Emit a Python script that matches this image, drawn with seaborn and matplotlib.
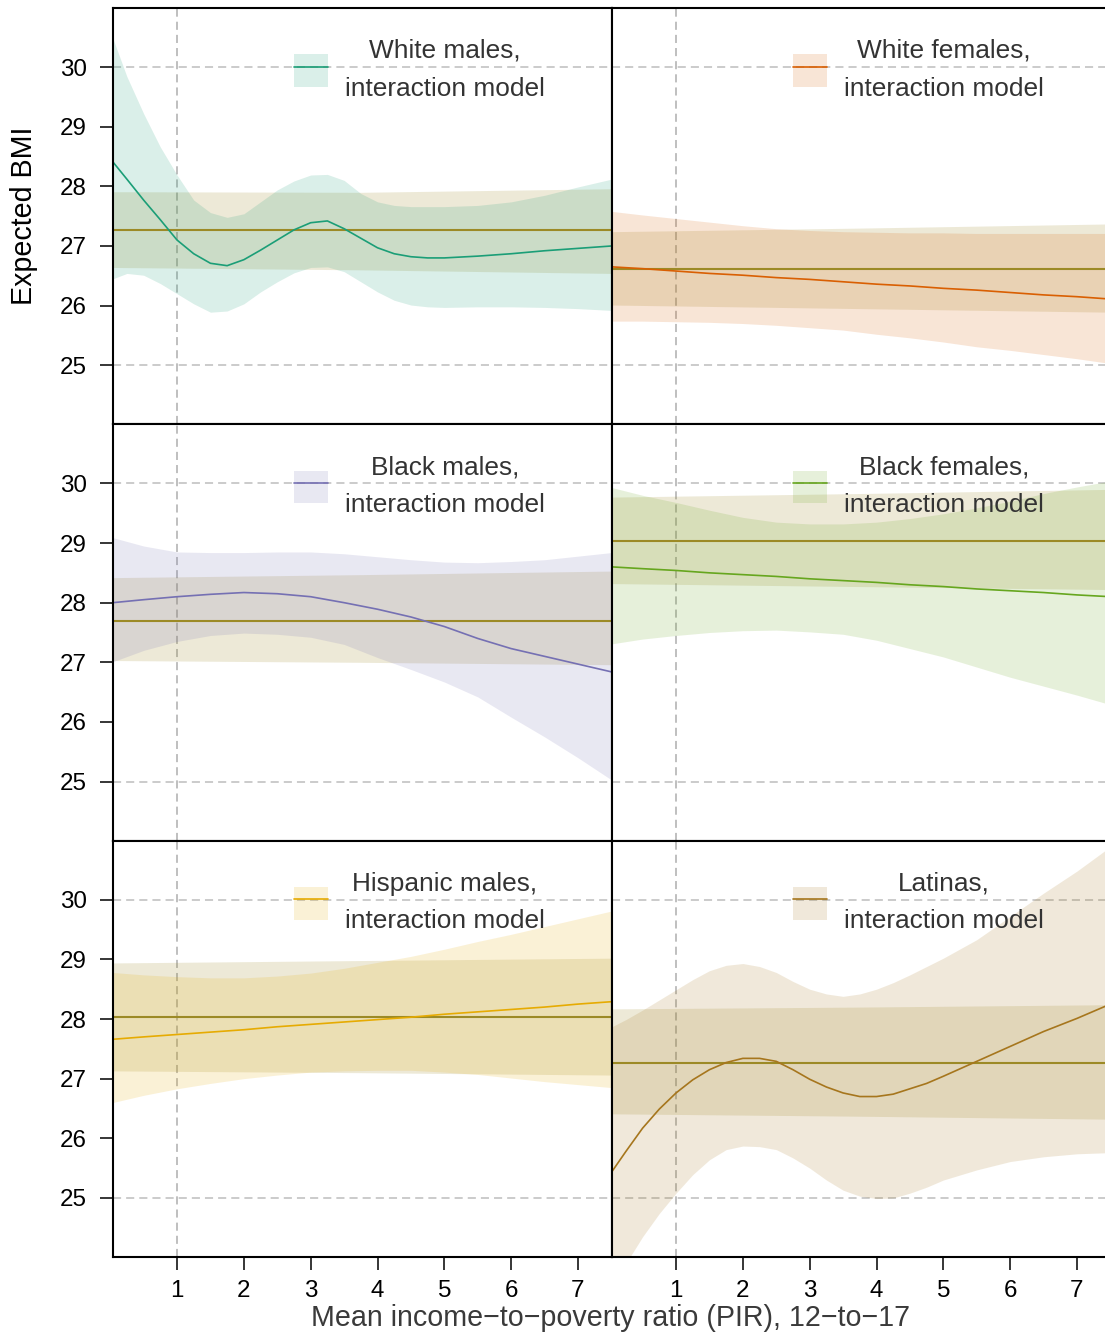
import numpy as np
import pandas as pd
import matplotlib
matplotlib.use("Agg")
import matplotlib.pyplot as plt
import seaborn as sns
from matplotlib.patches import Patch
from matplotlib.lines import Line2D

# ---------------- data ----------------
pir = [0.04, 0.5, 1.0, 1.5, 2.0, 2.5, 3.0, 3.5, 4.0, 4.5, 5.0, 5.5, 6.0, 6.5, 7.0, 7.5]
pir_fine = [0.04, 0.25, 0.5, 0.75, 1.0, 1.25, 1.5, 1.75, 2.0, 2.25, 2.5, 2.75, 3.0,
            3.25, 3.5, 3.75, 4.0, 4.25, 4.5, 4.75, 5.0, 5.5, 6.0, 6.5, 7.0, 7.5]
null_pir = [0.04, 3.75, 7.5]

groups = ["White males", "White females", "Black males",
          "Black females", "Hispanic males", "Latinas"]
colors = ["#1B9E77", "#D95F02", "#7570B3", "#66A61E", "#E6AB02", "#A6761D"]
null_color = "#9C8A26"

# interaction model: fit, upper, lower
wm_fit = [28.41, 28.12, 27.77, 27.44, 27.10, 26.87, 26.71, 26.67, 26.77, 26.93, 27.10, 27.27, 27.39,
          27.42, 27.29, 27.13, 26.97, 26.87, 26.82, 26.80, 26.80, 26.83, 26.87, 26.92, 26.96, 27.00]
wm_hi = [30.48, 29.84, 29.22, 28.66, 28.19, 27.77, 27.56, 27.48, 27.54, 27.74, 27.94, 28.09, 28.19,
         28.20, 28.10, 27.88, 27.74, 27.68, 27.66, 27.66, 27.66, 27.68, 27.74, 27.85, 27.99, 28.12]
wm_lo = [26.45, 26.54, 26.51, 26.37, 26.20, 26.03, 25.89, 25.91, 26.03, 26.23, 26.40, 26.55, 26.64,
         26.65, 26.57, 26.40, 26.23, 26.09, 26.01, 25.98, 25.97, 25.98, 25.98, 25.97, 25.95, 25.92]

wf_fit = [26.65, 26.62, 26.58, 26.54, 26.51, 26.47, 26.44, 26.40, 26.36, 26.33, 26.29, 26.26, 26.22, 26.18, 26.15, 26.11]
wf_hi = [27.58, 27.52, 27.46, 27.40, 27.34, 27.29, 27.26, 27.24, 27.23, 27.22, 27.22, 27.21, 27.21, 27.21, 27.21, 27.21]
wf_lo = [25.74, 25.74, 25.73, 25.72, 25.70, 25.67, 25.63, 25.59, 25.52, 25.46, 25.39, 25.31, 25.25, 25.18, 25.11, 25.03]

bm_fit = [28.00, 28.05, 28.10, 28.14, 28.17, 28.15, 28.10, 28.00, 27.89, 27.76, 27.60, 27.40, 27.23, 27.10, 26.97, 26.84]
bm_hi = [29.09, 28.95, 28.85, 28.84, 28.84, 28.85, 28.85, 28.82, 28.77, 28.72, 28.68, 28.67, 28.69, 28.72, 28.78, 28.84]
bm_lo = [27.01, 27.20, 27.35, 27.45, 27.49, 27.47, 27.42, 27.30, 27.08, 26.88, 26.67, 26.42, 26.08, 25.75, 25.40, 25.03]

bf_fit = [28.60, 28.57, 28.54, 28.50, 28.47, 28.44, 28.40, 28.37, 28.34, 28.30, 28.27, 28.23, 28.20, 28.17, 28.13, 28.10]
bf_hi = [29.93, 29.80, 29.68, 29.55, 29.43, 29.35, 29.32, 29.32, 29.35, 29.41, 29.49, 29.59, 29.70, 29.83, 29.94, 30.04]
bf_lo = [27.31, 27.39, 27.45, 27.50, 27.53, 27.54, 27.51, 27.47, 27.37, 27.23, 27.09, 26.92, 26.75, 26.60, 26.45, 26.29]

hm_fit = [27.66, 27.70, 27.74, 27.78, 27.82, 27.87, 27.91, 27.95, 27.99, 28.03, 28.08, 28.12, 28.16, 28.20, 28.25, 28.29]
hm_hi = [28.78, 28.74, 28.71, 28.69, 28.69, 28.72, 28.77, 28.85, 28.95, 29.05, 29.17, 29.30, 29.42, 29.55, 29.68, 29.81]
hm_lo = [26.60, 26.72, 26.83, 26.92, 27.00, 27.06, 27.11, 27.13, 27.14, 27.14, 27.11, 27.07, 27.01, 26.95, 26.90, 26.85]

la_fit = [25.44, 25.78, 26.17, 26.49, 26.76, 26.98, 27.15, 27.27, 27.34, 27.34, 27.29, 27.15, 26.99,
          26.86, 26.76, 26.70, 26.70, 26.74, 26.83, 26.92, 27.04, 27.29, 27.54, 27.79, 28.01, 28.25]
la_hi = [27.87, 27.99, 28.15, 28.32, 28.49, 28.66, 28.81, 28.90, 28.93, 28.88, 28.78, 28.63, 28.50,
         28.42, 28.38, 28.42, 28.50, 28.61, 28.74, 28.88, 29.02, 29.33, 29.72, 30.11, 30.48, 30.89]
la_lo = [23.50, 23.90, 24.35, 24.74, 25.08, 25.39, 25.64, 25.81, 25.87, 25.86, 25.81, 25.67, 25.50,
         25.30, 25.13, 25.03, 24.99, 25.00, 25.08, 25.18, 25.30, 25.47, 25.61, 25.69, 25.74, 25.76]

# null (no-interaction) model: constant fit and band
null_fit = [27.27, 26.62, 27.70, 29.04, 28.03, 27.27]
wm_null_hi, wm_null_lo = [27.91, 27.90, 27.96], [26.64, 26.60, 26.54]
wf_null_hi, wf_null_lo = [27.24, 27.30, 27.37], [26.01, 25.95, 25.89]
bm_null_hi, bm_null_lo = [28.42, 28.47, 28.53], [27.03, 27.00, 26.96]
bf_null_hi, bf_null_lo = [29.77, 29.83, 29.90], [28.32, 28.27, 28.22]
hm_null_hi, hm_null_lo = [28.94, 28.98, 29.02], [27.13, 27.10, 27.06]
la_null_hi, la_null_lo = [28.17, 28.20, 28.24], [26.41, 26.37, 26.32]

xs = [pir_fine, pir, pir, pir, pir, pir_fine]
fits = [wm_fit, wf_fit, bm_fit, bf_fit, hm_fit, la_fit]
his = [wm_hi, wf_hi, bm_hi, bf_hi, hm_hi, la_hi]
los = [wm_lo, wf_lo, bm_lo, bf_lo, hm_lo, la_lo]
null_his = [wm_null_hi, wf_null_hi, bm_null_hi, bf_null_hi, hm_null_hi, la_null_hi]
null_los = [wm_null_lo, wf_null_lo, bm_null_lo, bf_null_lo, hm_null_lo, la_null_lo]

y_ticks = [25, 26, 27, 28, 29, 30]
x_ticks = [1, 2, 3, 4, 5, 6, 7]
grid_y = [25, 30]
grid_x = [1]

# ---------------- style ----------------
sns.set_theme(style="white")
plt.rcParams["font.family"] = ["Liberation Sans", "DejaVu Sans"]

W, H = 1105, 1335
fig = plt.figure(figsize=(W / 100, H / 100), dpi=100)

ax_w = 499 / W
row_h = 416.33 / H
lefts = [113 / W, 612 / W]
bottoms = [(H - (8 + (r + 1) * 416.33)) / H for r in range(3)]

TICK_FS = 17.4
LEG_FS = 18.9
LAB_FS = 20.6

for i, grp in enumerate(groups):
    r, c = divmod(i, 2)
    ax = fig.add_axes([lefts[c], bottoms[r], ax_w, row_h])
    ax.set_facecolor("white")
    col = colors[i]

    # dashed reference lines
    for gy in grid_y:
        ax.axhline(gy, color="#BDBDBD", lw=1.1, ls=(0, (5.3, 3.3)), zorder=0.5)
    for gx in grid_x:
        ax.axvline(gx, color="#ADADAD", lw=1.1, ls=(0, (5.3, 3.3)), zorder=0.5)

    # bands
    ax.fill_between(null_pir, null_los[i], null_his[i], color=null_color,
                    alpha=0.18, lw=0, zorder=1)
    ax.fill_between(xs[i], los[i], his[i], color=col, alpha=0.16, lw=0, zorder=1.1)

    # lines
    df_null = pd.DataFrame({"PIR": [null_pir[0], null_pir[-1]],
                            "BMI": [null_fit[i], null_fit[i]]})
    sns.lineplot(data=df_null, x="PIR", y="BMI", color=null_color, lw=1.5,
                 estimator=None, sort=False, ax=ax, zorder=2)
    df_fit = pd.DataFrame({"PIR": xs[i], "BMI": fits[i]})
    sns.lineplot(data=df_fit, x="PIR", y="BMI", color=col, lw=1.2,
                 estimator=None, sort=False, ax=ax, zorder=2.1)

    ax.set_xlim(0.042, 7.509)
    ax.set_ylim(24.01, 30.99)
    ax.set_xlabel("")
    ax.set_ylabel("")

    for sp in ax.spines.values():
        sp.set_visible(True)
        sp.set_color("black")
        sp.set_linewidth(1.5)
        sp.set_zorder(5)

    ax.set_yticks(y_ticks)
    ax.set_xticks(x_ticks)
    ax.tick_params(axis="y", which="both", left=(c == 0), labelleft=(c == 0),
                   right=False, length=9.4, width=1.1, color="black",
                   pad=9.4, labelsize=TICK_FS, labelcolor="black")
    ax.tick_params(axis="x", which="both", bottom=(r == 2), labelbottom=(r == 2),
                   top=False, length=9.4, width=1.1, color="black",
                   pad=7.2, labelsize=TICK_FS, labelcolor="black")

    # legend
    handle = (Patch(facecolor=col, alpha=0.16, edgecolor="none"),
              Line2D([], [], color=col, lw=1.2))
    leg = ax.legend([handle], [f"{grp},\ninteraction model"], loc="center",
                    bbox_to_anchor=(0.614, 0.8516), bbox_transform=ax.transAxes,
                    frameon=False, fontsize=LEG_FS, handlelength=1.29,
                    handleheight=1.55, handletextpad=0.65, borderpad=0,
                    borderaxespad=0, labelcolor="#333333")
    for t in leg.get_texts():
        t.set_multialignment("center")
        t.set_linespacing(1.72)

fig.text(32.5 / W, 1 - 216 / H, "Expected BMI", rotation=90, rotation_mode="anchor",
         ha="center", va="baseline", fontsize=LAB_FS, color="black")
fig.text(611 / W, (H - 1325.5) / H, "Mean income\u2212to\u2212poverty ratio (PIR), 12\u2212to\u221217",
         ha="center", va="baseline", fontsize=LAB_FS, color="#3a3a3a")

fig.savefig("out.png", dpi=100, facecolor="white")
